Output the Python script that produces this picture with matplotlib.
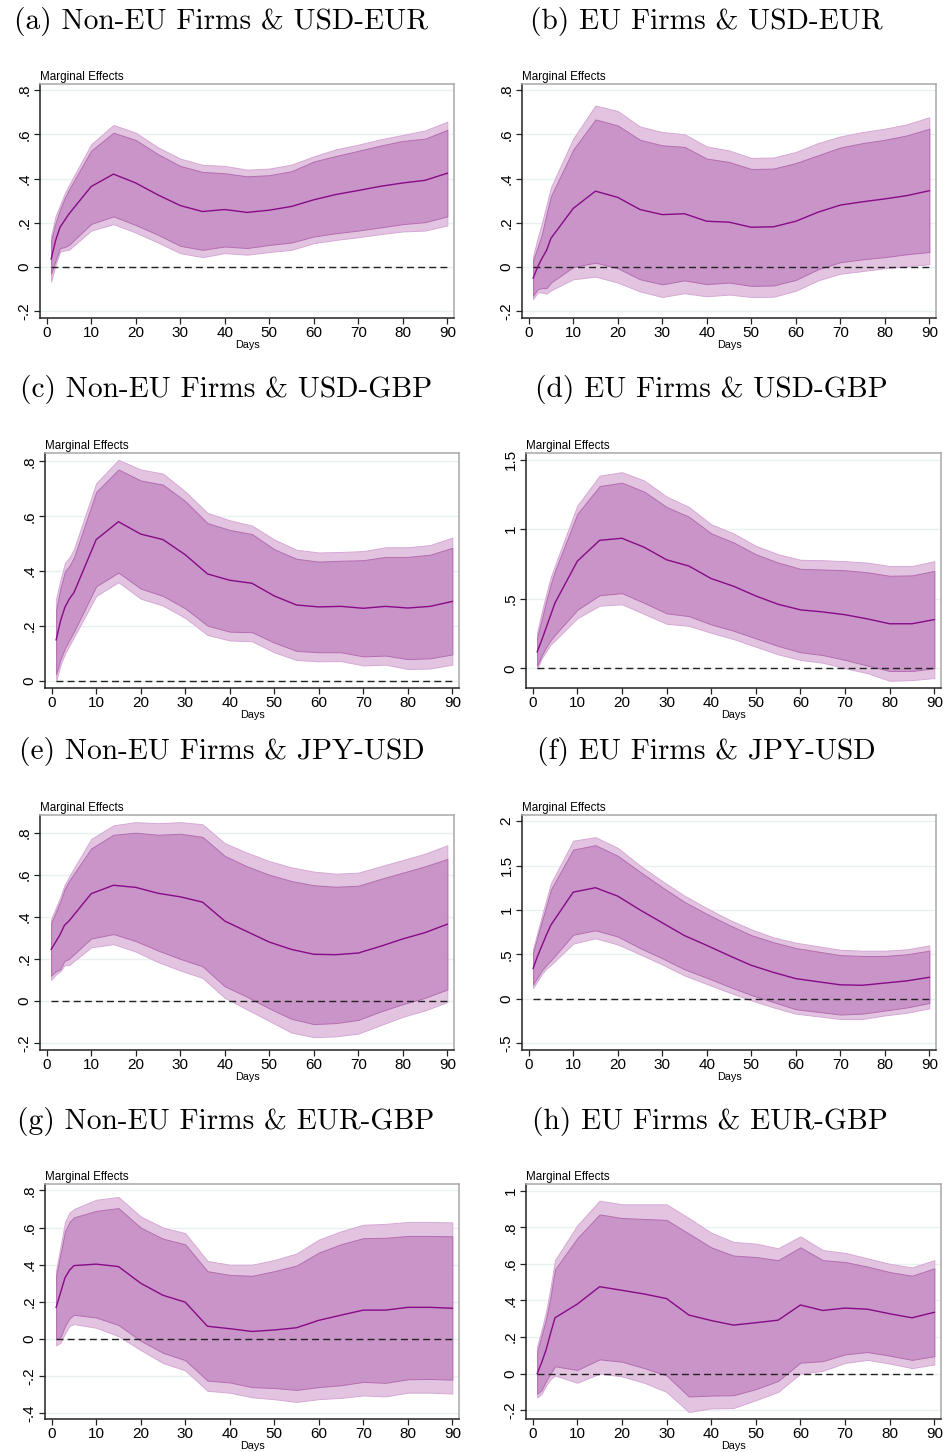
import numpy as np
import matplotlib.pyplot as plt

# Horizons (days)
days = [1, 2, 3, 4, 5, 10, 15, 20, 25, 30, 35, 40, 45, 50, 55, 60, 65, 70, 75, 80, 85, 90]

# (a) Non-EU Firms & USD-EUR
a_est  = [0.036, 0.12, 0.18, 0.21, 0.24, 0.364, 0.42, 0.38, 0.326, 0.278, 0.251, 0.26, 0.247, 0.257, 0.274, 0.304, 0.328, 0.346, 0.365, 0.38, 0.392, 0.424]
a_hi90 = [0.12, 0.20, 0.26, 0.31, 0.35, 0.526, 0.607, 0.574, 0.51, 0.457, 0.43, 0.424, 0.41, 0.415, 0.433, 0.477, 0.502, 0.525, 0.549, 0.57, 0.58, 0.62]
a_hi95 = [0.14, 0.23, 0.28, 0.33, 0.37, 0.555, 0.642, 0.607, 0.541, 0.49, 0.462, 0.457, 0.44, 0.445, 0.463, 0.50, 0.532, 0.553, 0.577, 0.597, 0.617, 0.657]
a_lo90 = [-0.03, 0.03, 0.086, 0.09, 0.10, 0.195, 0.229, 0.19, 0.146, 0.096, 0.078, 0.093, 0.086, 0.10, 0.111, 0.138, 0.153, 0.165, 0.179, 0.194, 0.203, 0.229]
a_lo95 = [-0.065, 0.01, 0.07, 0.075, 0.078, 0.165, 0.194, 0.156, 0.111, 0.063, 0.045, 0.063, 0.056, 0.068, 0.078, 0.108, 0.123, 0.135, 0.149, 0.161, 0.165, 0.188]

# (b) EU Firms & USD-EUR
b_est  = [-0.05, 0.0, 0.04, 0.075, 0.13, 0.265, 0.343, 0.315, 0.26, 0.237, 0.241, 0.207, 0.203, 0.18, 0.182, 0.207, 0.248, 0.28, 0.295, 0.308, 0.323, 0.345]
b_hi90 = [0.03, 0.09, 0.15, 0.24, 0.32, 0.53, 0.667, 0.64, 0.575, 0.55, 0.543, 0.49, 0.475, 0.443, 0.445, 0.47, 0.505, 0.54, 0.56, 0.575, 0.595, 0.625]
b_hi95 = [0.05, 0.13, 0.20, 0.28, 0.36, 0.58, 0.73, 0.705, 0.635, 0.61, 0.60, 0.545, 0.527, 0.493, 0.495, 0.52, 0.56, 0.59, 0.61, 0.625, 0.645, 0.677]
b_lo90 = [-0.13, -0.10, -0.095, -0.095, -0.07, 0.0, 0.02, -0.005, -0.055, -0.078, -0.06, -0.077, -0.07, -0.085, -0.083, -0.058, -0.01, 0.022, 0.035, 0.045, 0.058, 0.068]
b_lo95 = [-0.145, -0.115, -0.115, -0.12, -0.105, -0.055, -0.043, -0.07, -0.11, -0.135, -0.118, -0.132, -0.124, -0.135, -0.134, -0.107, -0.06, -0.03, -0.018, -0.005, 0.003, 0.013]

# (c) Non-EU Firms & USD-GBP
c_est  = [0.15, 0.22, 0.27, 0.30, 0.322, 0.515, 0.58, 0.535, 0.515, 0.46, 0.39, 0.367, 0.356, 0.31, 0.277, 0.27, 0.272, 0.265, 0.272, 0.266, 0.272, 0.29]
c_hi90 = [0.26, 0.34, 0.40, 0.42, 0.45, 0.688, 0.77, 0.73, 0.715, 0.655, 0.575, 0.55, 0.535, 0.48, 0.445, 0.435, 0.438, 0.44, 0.452, 0.452, 0.46, 0.485]
c_hi95 = [0.30, 0.37, 0.43, 0.45, 0.48, 0.72, 0.805, 0.77, 0.755, 0.69, 0.612, 0.585, 0.566, 0.515, 0.478, 0.468, 0.47, 0.473, 0.487, 0.487, 0.495, 0.522]
c_lo90 = [0.025, 0.08, 0.12, 0.15, 0.18, 0.345, 0.395, 0.337, 0.31, 0.265, 0.202, 0.18, 0.178, 0.14, 0.11, 0.105, 0.105, 0.09, 0.093, 0.08, 0.083, 0.097]
c_lo95 = [0.0, 0.06, 0.10, 0.13, 0.16, 0.31, 0.36, 0.30, 0.275, 0.23, 0.168, 0.148, 0.145, 0.105, 0.077, 0.072, 0.073, 0.057, 0.06, 0.044, 0.046, 0.06]

# (d) EU Firms & USD-GBP
d_est  = [0.118, 0.20, 0.29, 0.38, 0.47, 0.77, 0.92, 0.935, 0.87, 0.78, 0.735, 0.645, 0.59, 0.52, 0.46, 0.42, 0.405, 0.385, 0.355, 0.32, 0.32, 0.35]
d_hi90 = [0.22, 0.35, 0.48, 0.60, 0.70, 1.11, 1.31, 1.335, 1.27, 1.16, 1.09, 0.97, 0.905, 0.82, 0.76, 0.715, 0.71, 0.705, 0.69, 0.665, 0.668, 0.70]
d_hi95 = [0.26, 0.40, 0.53, 0.65, 0.74, 1.17, 1.385, 1.41, 1.35, 1.235, 1.16, 1.035, 0.97, 0.88, 0.82, 0.78, 0.777, 0.77, 0.76, 0.735, 0.735, 0.77]
d_lo90 = [0.02, 0.09, 0.15, 0.20, 0.24, 0.42, 0.525, 0.54, 0.47, 0.395, 0.375, 0.315, 0.27, 0.215, 0.16, 0.115, 0.095, 0.06, 0.02, -0.02, -0.02, 0.0]
d_lo95 = [-0.005, 0.07, 0.12, 0.17, 0.20, 0.36, 0.45, 0.46, 0.39, 0.32, 0.305, 0.255, 0.21, 0.155, 0.10, 0.06, 0.04, 0.0, -0.035, -0.09, -0.085, -0.07]

# (e) Non-EU Firms & JPY-USD
e_est  = [0.245, 0.28, 0.315, 0.36, 0.38, 0.51, 0.55, 0.54, 0.512, 0.495, 0.47, 0.38, 0.33, 0.28, 0.245, 0.222, 0.22, 0.228, 0.26, 0.295, 0.325, 0.365]
e_hi90 = [0.37, 0.42, 0.47, 0.53, 0.57, 0.725, 0.79, 0.80, 0.79, 0.795, 0.78, 0.69, 0.64, 0.60, 0.57, 0.55, 0.543, 0.548, 0.58, 0.61, 0.64, 0.675]
e_hi95 = [0.39, 0.44, 0.49, 0.55, 0.59, 0.77, 0.835, 0.85, 0.845, 0.85, 0.84, 0.75, 0.705, 0.665, 0.635, 0.615, 0.605, 0.61, 0.64, 0.67, 0.70, 0.74]
e_lo90 = [0.12, 0.14, 0.15, 0.19, 0.20, 0.297, 0.318, 0.285, 0.24, 0.20, 0.165, 0.07, 0.02, -0.035, -0.085, -0.11, -0.105, -0.09, -0.05, -0.015, 0.015, 0.055]
e_lo95 = [0.10, 0.125, 0.14, 0.17, 0.17, 0.255, 0.27, 0.235, 0.185, 0.145, 0.11, 0.015, -0.04, -0.095, -0.15, -0.172, -0.168, -0.155, -0.115, -0.075, -0.045, -0.005]

# (f) EU Firms & JPY-USD
f_est  = [0.34, 0.48, 0.60, 0.72, 0.83, 1.20, 1.25, 1.155, 1.0, 0.855, 0.71, 0.60, 0.485, 0.375, 0.295, 0.225, 0.19, 0.155, 0.15, 0.175, 0.20, 0.24]
f_hi90 = [0.52, 0.70, 0.88, 1.05, 1.23, 1.68, 1.73, 1.61, 1.43, 1.255, 1.09, 0.955, 0.83, 0.715, 0.635, 0.57, 0.53, 0.49, 0.48, 0.48, 0.50, 0.54]
f_hi95 = [0.56, 0.75, 0.94, 1.12, 1.30, 1.78, 1.82, 1.70, 1.50, 1.325, 1.16, 1.02, 0.89, 0.78, 0.69, 0.63, 0.59, 0.55, 0.54, 0.54, 0.555, 0.60]
f_lo90 = [0.16, 0.24, 0.32, 0.38, 0.43, 0.72, 0.77, 0.70, 0.57, 0.455, 0.33, 0.235, 0.135, 0.04, -0.04, -0.12, -0.15, -0.18, -0.17, -0.135, -0.10, -0.05]
f_lo95 = [0.12, 0.20, 0.28, 0.34, 0.38, 0.62, 0.68, 0.61, 0.50, 0.385, 0.26, 0.165, 0.07, -0.02, -0.10, -0.17, -0.20, -0.23, -0.23, -0.19, -0.16, -0.11]

# (g) Non-EU Firms & EUR-GBP
g_est  = [0.17, 0.25, 0.33, 0.37, 0.395, 0.403, 0.39, 0.30, 0.235, 0.198, 0.068, 0.055, 0.04, 0.048, 0.06, 0.10, 0.128, 0.155, 0.155, 0.17, 0.17, 0.165]
g_hi90 = [0.34, 0.46, 0.58, 0.63, 0.655, 0.69, 0.705, 0.60, 0.54, 0.51, 0.365, 0.345, 0.34, 0.365, 0.395, 0.465, 0.51, 0.543, 0.545, 0.555, 0.555, 0.553]
g_hi95 = [0.37, 0.50, 0.63, 0.68, 0.70, 0.75, 0.765, 0.66, 0.60, 0.57, 0.42, 0.40, 0.40, 0.425, 0.46, 0.535, 0.58, 0.615, 0.62, 0.63, 0.63, 0.628]
g_lo90 = [0.0, 0.01, 0.07, 0.11, 0.13, 0.115, 0.075, -0.01, -0.075, -0.115, -0.225, -0.235, -0.26, -0.265, -0.275, -0.26, -0.25, -0.232, -0.237, -0.218, -0.216, -0.22]
g_lo95 = [-0.035, -0.02, 0.03, 0.07, 0.08, 0.06, 0.015, -0.06, -0.13, -0.17, -0.28, -0.29, -0.315, -0.325, -0.34, -0.325, -0.318, -0.305, -0.31, -0.29, -0.29, -0.295]

# (h) EU Firms & EUR-GBP
h_est  = [0.0, 0.06, 0.13, 0.22, 0.305, 0.38, 0.475, 0.455, 0.435, 0.41, 0.32, 0.29, 0.265, 0.278, 0.292, 0.375, 0.345, 0.358, 0.352, 0.327, 0.305, 0.335]
h_hi90 = [0.12, 0.21, 0.30, 0.42, 0.57, 0.74, 0.87, 0.85, 0.845, 0.84, 0.765, 0.69, 0.645, 0.637, 0.62, 0.69, 0.62, 0.61, 0.585, 0.555, 0.535, 0.575]
h_hi95 = [0.15, 0.24, 0.34, 0.47, 0.62, 0.81, 0.945, 0.925, 0.925, 0.925, 0.85, 0.77, 0.72, 0.71, 0.685, 0.75, 0.675, 0.66, 0.63, 0.60, 0.58, 0.62]
h_lo90 = [-0.11, -0.09, -0.04, 0.0, 0.04, 0.02, 0.078, 0.065, 0.03, -0.01, -0.125, -0.12, -0.118, -0.085, -0.04, 0.06, 0.068, 0.105, 0.118, 0.098, 0.075, 0.095]
h_lo95 = [-0.13, -0.11, -0.065, -0.03, -0.01, -0.05, 0.0, -0.015, -0.05, -0.10, -0.21, -0.19, -0.188, -0.145, -0.10, 0.0, 0.015, 0.058, 0.075, 0.055, 0.03, 0.05]

captions = ['(a) Non-EU Firms & USD-EUR', '(b) EU Firms & USD-EUR',
            '(c) Non-EU Firms & USD-GBP', '(d) EU Firms & USD-GBP',
            '(e) Non-EU Firms & JPY-USD', '(f) EU Firms & JPY-USD',
            '(g) Non-EU Firms & EUR-GBP', '(h) EU Firms & EUR-GBP']

panels = [
    (a_est, a_lo90, a_hi90, a_lo95, a_hi95),
    (b_est, b_lo90, b_hi90, b_lo95, b_hi95),
    (c_est, c_lo90, c_hi90, c_lo95, c_hi95),
    (d_est, d_lo90, d_hi90, d_lo95, d_hi95),
    (e_est, e_lo90, e_hi90, e_lo95, e_hi95),
    (f_est, f_lo90, f_hi90, f_lo95, f_hi95),
    (g_est, g_lo90, g_hi90, g_lo95, g_hi95),
    (h_est, h_lo90, h_hi90, h_lo95, h_hi95),
]

yticks = [
    [-0.2, 0, 0.2, 0.4, 0.6, 0.8],
    [-0.2, 0, 0.2, 0.4, 0.6, 0.8],
    [0, 0.2, 0.4, 0.6, 0.8],
    [0, 0.5, 1, 1.5],
    [-0.2, 0, 0.2, 0.4, 0.6, 0.8],
    [-0.5, 0, 0.5, 1, 1.5, 2],
    [-0.4, -0.2, 0, 0.2, 0.4, 0.6, 0.8],
    [-0.2, 0, 0.2, 0.4, 0.6, 0.8, 1],
]

# layout in pixels: left, right, top, bottom of each plot region
W, H = 947, 1452
boxes = [(40, 454, 84, 318), (522, 936, 84, 318),
         (45, 459, 453, 688), (526, 941, 453, 688),
         (40, 454, 815, 1050), (522, 936, 815, 1050),
         (45, 459, 1184, 1419), (526, 941, 1184, 1419)]
ylims = [(-0.23, 0.827), (-0.23, 0.827), (-0.025, 0.83), (-0.142, 1.548),
         (-0.233, 0.884), (-0.58, 2.07), (-0.432, 0.835), (-0.248, 1.036)]
cap_pos = [(221, 22), (706, 22), (226, 390), (711, 390),
           (222, 752), (706, 752), (226, 1122), (710, 1122)]

c_outer = '#e2c4e1'
c_inner = '#c994c7'
c_line = '#880a88'


def stata_fmt(v):
    s = f'{v:g}'
    if s.startswith('0.'):
        s = s[1:]
    elif s.startswith('-0.'):
        s = '-' + s[2:]
    return s


plt.rcParams['font.family'] = ['Liberation Sans', 'DejaVu Sans']
fig = plt.figure(figsize=(W / 100, H / 100), dpi=100)

for i, (est, lo90, hi90, lo95, hi95) in enumerate(panels):
    l, r, t, b = boxes[i]
    ax = fig.add_axes([l / W, 1 - b / H, (r - l) / W, (b - t) / H])
    ax.fill_between(days, lo95, hi95, facecolor=c_outer, edgecolor='#d6a8d5', linewidth=0.7, zorder=2)
    ax.fill_between(days, lo90, hi90, facecolor=c_inner, edgecolor='#b46db2', linewidth=0.7, zorder=3)
    ax.plot([days[0], days[-1]], [0, 0], color='#222222', linestyle=(0, (5, 3)), linewidth=1.0, zorder=4)
    ax.plot(days, est, color=c_line, linewidth=1.0, zorder=5)

    ax.set_xlim(-1.5, 91.5)
    ax.set_ylim(*ylims[i])
    ax.set_xticks(range(0, 91, 10))
    ax.set_yticks(yticks[i])
    ax.set_yticklabels([stata_fmt(v) for v in yticks[i]], rotation=90, va='center')
    ax.tick_params(axis='both', labelsize=11, length=4, width=0.9, color='#222222', pad=2)
    ax.grid(axis='y', color='#e8f0f1', linewidth=1.0, zorder=0)
    ax.set_axisbelow(True)
    for side in ['left', 'bottom']:
        ax.spines[side].set_color('#222222')
        ax.spines[side].set_linewidth(1.1)
    for side in ['top', 'right']:
        ax.spines[side].set_color('#a8a8a8')
        ax.spines[side].set_linewidth(1.1)
    ax.set_xlabel('Days', fontsize=7.8, labelpad=0)
    ax.set_title('Marginal Effects', loc='left', fontsize=8.4, pad=3)

    cx, cy = cap_pos[i]
    fig.text(cx / W, 1 - cy / H, captions[i], family=['cmr10', 'DejaVu Serif'],
             fontsize=21.2, ha='center', va='center')

fig.savefig('out.png', dpi=100, facecolor='white')
